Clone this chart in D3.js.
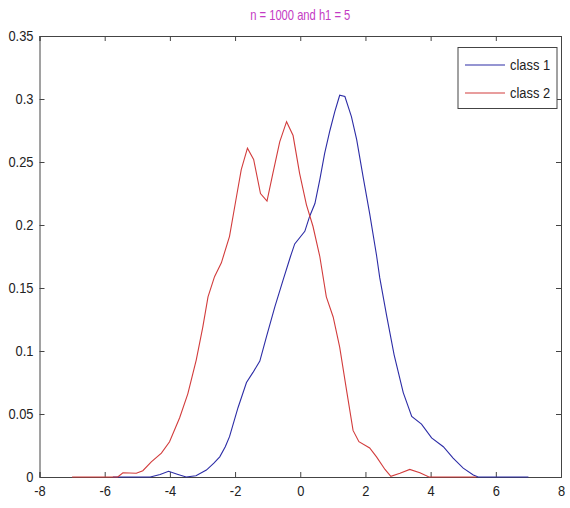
<!DOCTYPE html>
<html>
<head>
<meta charset="utf-8">
<script src="https://cdn.jsdelivr.net/npm/d3@7"></script>
<style>
  html, body { margin: 0; padding: 0; background: #fff; }
  svg { display: block; }
  text { font-family: "Liberation Sans", Arial, sans-serif; fill: #222; }
</style>
</head>
<body>
<svg id="svg" width="570" height="508"></svg>
<script>
// kernel density estimates
const class1X = [-5.75, -4.6, -4.3, -4.04, -3.75, -3.5, -3.2, -2.88, -2.65, -2.47, -2.3, -2.17, -1.91, -1.65, -1.45,
  -1.24, -1.04, -0.78, -0.53, -0.3, -0.17, 0.14, 0.29, 0.45, 0.6, 0.75, 0.91, 1.06, 1.21, 1.37, 1.57, 1.73, 1.93,
  2.13, 2.34, 2.44, 2.65, 2.88, 3.16, 3.42, 3.72, 4.03, 4.39, 4.69, 5.0, 5.31, 5.46, 7.0];
const class1Y = [0, 0, 0.002, 0.0045, 0.002, 0, 0.001, 0.0055, 0.011, 0.016, 0.024, 0.032, 0.055, 0.075, 0.083,
  0.092, 0.111, 0.135, 0.156, 0.175, 0.185, 0.195, 0.207, 0.217, 0.236, 0.257, 0.275, 0.29, 0.303, 0.302, 0.286, 0.268, 0.238,
  0.209, 0.176, 0.158, 0.128, 0.097, 0.067, 0.048, 0.042, 0.031, 0.024, 0.015, 0.007, 0.0016, 0, 0];

const class2X = [-7.0, -5.6, -5.44, -5.03, -4.83, -4.57, -4.26, -4.01, -3.7, -3.45, -3.19, -2.99, -2.83, -2.63, -2.42,
  -2.17, -1.96, -1.81, -1.62, -1.43, -1.22, -1.02, -0.84, -0.63, -0.42, -0.22, -0.02, 0.19, 0.39, 0.6, 0.8, 1.01,
  1.21, 1.42, 1.62, 1.8, 2.13, 2.34, 2.6, 2.78, 3.06, 3.36, 3.67, 3.95, 5.4];
const class2Y = [0, 0, 0.0034, 0.003, 0.005, 0.012, 0.019, 0.028, 0.047, 0.066, 0.093, 0.119, 0.143, 0.159, 0.17,
  0.191, 0.222, 0.244, 0.261, 0.252, 0.225, 0.219, 0.241, 0.266, 0.282, 0.271, 0.241, 0.216, 0.199, 0.175, 0.143, 0.127,
  0.103, 0.069, 0.037, 0.028, 0.023, 0.016, 0.006, 0.0005, 0.003, 0.006, 0.0034, 0, 0];

const xTicks = [-8, -6, -4, -2, 0, 2, 4, 6, 8];
const yTicks = [0, 0.05, 0.1, 0.15, 0.2, 0.25, 0.3, 0.35];
const seriesNames = ["class 1", "class 2"];
const seriesColors = ["#2c2ca6", "#d23c3c"];
const title = "n = 1000 and h1 = 5";

const svg = d3.select("#svg");
const plotL = 39.5, plotR = 561, plotT = 36, plotB = 477;
const SX = 0.86;  // narrow the glyphs, the original uses a condensed face

const x = d3.scaleLinear().domain([-8, 8]).range([plotL, plotR]);
const y = d3.scaleLinear().domain([0, 0.35]).range([plotB, plotT]);

const axisColor = "#444";

// squeeze text horizontally around its own anchor point
function condense(sel, sx) {
  sel.each(function () {
    const t = d3.select(this);
    const xx = +t.attr("x") || 0;
    t.attr("x", xx / sx).attr("transform", `scale(${sx},1)`);
  });
}

// axes (MATLAB style: ticks pointing inward, mirrored on top/right)
const gx = svg.append("g").attr("transform", `translate(0,${plotB})`)
  .call(d3.axisBottom(x).tickValues(xTicks).tickSize(-5).tickPadding(8).tickFormat(d => String(d)));
const gxTop = svg.append("g").attr("transform", `translate(0,${plotT})`)
  .call(d3.axisTop(x).tickValues(xTicks).tickSize(-5).tickFormat(""));
const gy = svg.append("g").attr("transform", `translate(${plotL},0)`)
  .call(d3.axisLeft(y).tickValues(yTicks).tickSize(-5).tickPadding(6).tickFormat(d => d === 0 ? "0" : String(+d.toFixed(2))));
const gyRight = svg.append("g").attr("transform", `translate(${plotR},0)`)
  .call(d3.axisRight(y).tickValues(yTicks).tickSize(-5).tickFormat(""));

[gx, gxTop, gy, gyRight].forEach(g => {
  g.select(".domain").attr("stroke", axisColor);
  g.selectAll(".tick line").attr("stroke", axisColor);
  g.selectAll(".tick text").attr("font-size", 15).attr("fill", "#222")
    .style("font-family", "'Liberation Sans', Arial, sans-serif");
  condense(g.selectAll(".tick text"), SX);
});

const line = d3.line().x(d => x(d[0])).y(d => y(d[1]));
const series = [
  d3.zip(class1X, class1Y),
  d3.zip(class2X, class2Y),
];
series.forEach((s, i) => {
  svg.append("path").datum(s)
    .attr("fill", "none")
    .attr("stroke", seriesColors[i])
    .attr("stroke-width", 1.1)
    .attr("d", line);
});

// title
svg.append("text")
  .attr("x", (plotL + plotR) / 2).attr("y", 20)
  .attr("text-anchor", "middle")
  .attr("font-size", 14)
  .style("fill", "#c43bc4")
  .text(title)
  .call(condense, 0.8);

// legend
const lg = svg.append("g").attr("transform", "translate(458,47.5)");
lg.append("rect").attr("width", 99).attr("height", 61)
  .attr("fill", "#fff").attr("stroke", axisColor);
seriesNames.forEach((name, i) => {
  const cy = 17.5 + i * 28;
  lg.append("line").attr("x1", 7).attr("x2", 47).attr("y1", cy).attr("y2", cy)
    .attr("stroke", seriesColors[i]).attr("stroke-width", 1.1);
  lg.append("text").attr("x", 52).attr("y", cy + 5)
    .attr("font-size", 15).text(name)
    .call(condense, SX);
});
</script>
</body>
</html>
